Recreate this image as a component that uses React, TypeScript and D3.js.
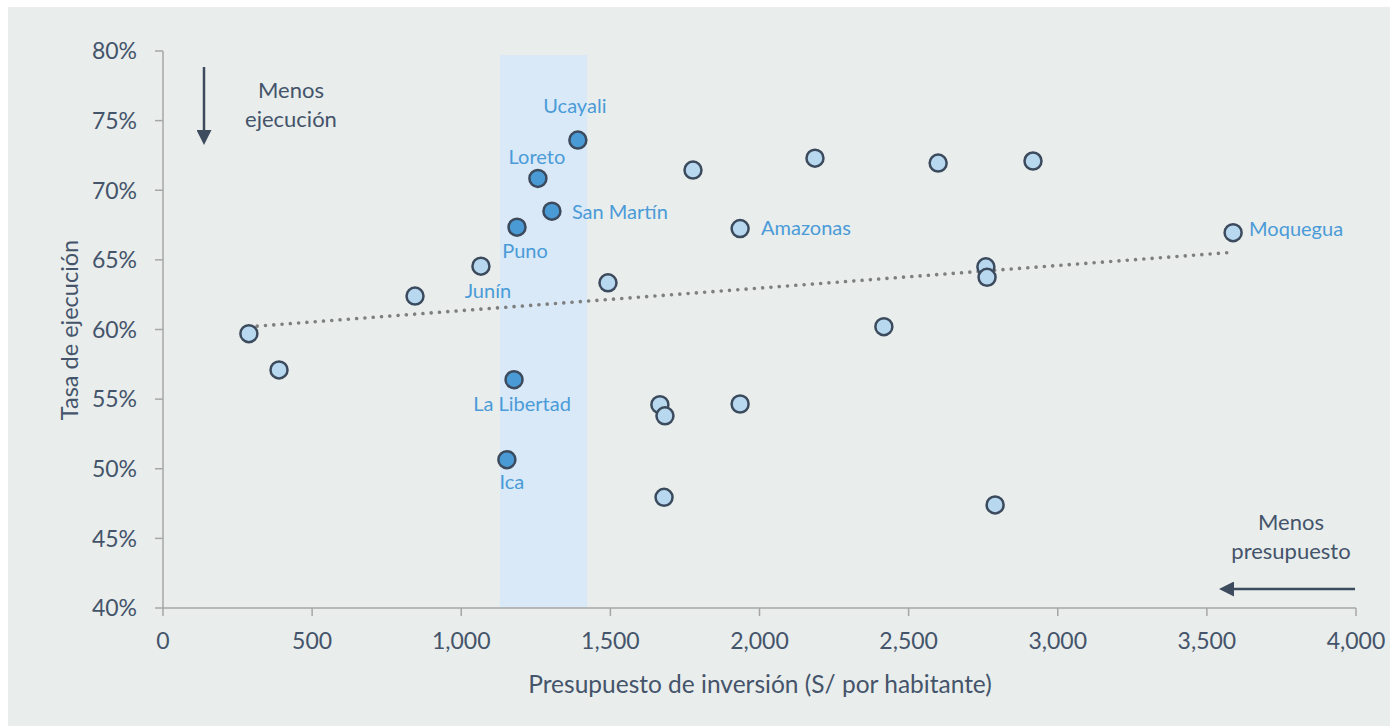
import React from "react";
import * as d3 from "d3";

const regions = ["", "", "", "Junín", "Puno", "Loreto", "San Martín", "Ucayali", "", "La Libertad", "Ica", "", "", "", "", "", "Amazonas", "", "", "", "", "", "", "", "Moquegua"];
const budget = [288, 389, 845, 1066, 1187, 1257, 1304, 1391, 1492, 1177, 1153, 1666, 1683, 1680, 1777, 1935, 1935, 2186, 2417, 2599, 2759, 2763, 2790, 2917, 3588];
const execution = [59.7, 57.1, 62.4, 64.55, 67.35, 70.85, 68.5, 73.6, 63.35, 56.4, 50.65, 54.6, 53.8, 47.95, 71.45, 54.65, 67.25, 72.3, 60.2, 71.95, 64.5, 63.75, 47.4, 72.1, 66.95];
const highlighted = [false, false, false, false, true, true, true, true, false, true, true, false, false, false, false, false, false, false, false, false, false, false, false, false, false];

const xTicks = [0, 500, 1000, 1500, 2000, 2500, 3000, 3500, 4000];
const yTicks = [40, 45, 50, 55, 60, 65, 70, 75, 80];
const bandRange = [1130, 1422];
const bandTop = 79.7;
const trendX = [288, 3588];
const trendY = [60.2, 65.55];

// label placement (offset in px from the point; anchor)
const labelDx: Record<string, number> = { "Junín": 7, Puno: 8, Loreto: -1, "San Martín": 20, Ucayali: -3, "La Libertad": 8, Ica: 5, Amazonas: 21, Moquegua: 16 };
const labelDy: Record<string, number> = { "Junín": 25, Puno: 24, Loreto: -22, "San Martín": 1, Ucayali: -34, "La Libertad": 24, Ica: 22, Amazonas: -1, Moquegua: -4 };
const labelStart: Record<string, boolean> = { "San Martín": true, Amazonas: true, Moquegua: true };

const W = 1382;
const H = 719;
const OX = 8;
const OY = 7;

const FONT = "Lato, 'Open Sans', sans-serif";
const TEXT = "#44546a";
const LABEL = "#4a9bd8";

export default function App() {
  const x = d3.scaleLinear().domain([0, 4000]).range([163 - OX, 1356 - OX]);
  const y = d3.scaleLinear().domain([40, 80]).range([608 - OY, 51 - OY]);
  const fmtX = d3.format(",");
  const line = d3.line<[number, number]>().x((d) => x(d[0])).y((d) => y(d[1]));
  const trend: [number, number][] = trendX.map((v, i) => [v, trendY[i]]);

  const x0 = x(0);
  const x1 = x(4000);
  const yb = y(40);
  const yt = y(80);

  return (
    <svg
      width={W}
      height={H}
      style={{ position: "absolute", left: OX, top: OY, display: "block" }}
      fontFamily={FONT}
    >
      <defs>
        <marker id="ah" viewBox="0 0 10 10" refX="2" refY="5" markerWidth="6" markerHeight="6" orient="auto-start-reverse" markerUnits="strokeWidth">
          <path d="M0,0 L10,5 L0,10 z" fill="#3d4b5e" />
        </marker>
      </defs>
      <rect x={0} y={0} width={W} height={H} fill="#e9edec" />
      <rect
        x={x(bandRange[0])}
        y={y(bandTop)}
        width={x(bandRange[1]) - x(bandRange[0])}
        height={yb - y(bandTop)}
        fill="#d9e9f7"
      />
      {/* axes */}
      <line x1={x0} x2={x0} y1={yt} y2={yb} stroke="#a6a6a6" strokeWidth={1.5} />
      <line x1={x0} x2={x1} y1={yb} y2={yb} stroke="#a6a6a6" strokeWidth={1.5} />
      {yTicks.map((t) => (
        <g key={"y" + t}>
          <line x1={x0 - 8} x2={x0} y1={y(t)} y2={y(t)} stroke="#a6a6a6" strokeWidth={1.5} />
          <text x={x0 - 26} y={y(t)} dy="0.36em" textAnchor="end" fontSize={23} fill={TEXT}>
            {t}%
          </text>
        </g>
      ))}
      {xTicks.map((t) => (
        <g key={"x" + t}>
          <line x1={x(t)} x2={x(t)} y1={yb} y2={yb + 8} stroke="#a6a6a6" strokeWidth={1.5} />
          <text x={x(t)} y={yb + 33} dy="0.36em" textAnchor="middle" fontSize={23} fill={TEXT}>
            {fmtX(t)}
          </text>
        </g>
      ))}
      <text
        transform={`translate(${70 - OX},${330 - OY}) rotate(-90)`}
        textAnchor="middle"
        dy="0.36em"
        fontSize={23.5}
        fill={TEXT}
      >
        Tasa de ejecución
      </text>
      <text x={760 - OX} y={684 - OY} dy="0.36em" textAnchor="middle" fontSize={24.5} fill={TEXT}>
        Presupuesto de inversión (S/ por habitante)
      </text>

      {/* trend */}
      <path
        d={line(trend) || ""}
        fill="none"
        stroke="#7f7f7f"
        strokeWidth={3.6}
        strokeDasharray="0.01 8.3"
        strokeLinecap="round"
      />

      {/* points */}
      {budget.map((b, i) => (
        <circle
          key={"p" + i}
          cx={x(b)}
          cy={y(execution[i])}
          r={8.5}
          fill={highlighted[i] ? "#4a9ad6" : "#b8d8ef"}
          stroke="#3b4a5d"
          strokeWidth={2.5}
        />
      ))}

      {/* labels */}
      {budget.map((b, i) => {
        const name = regions[i];
        if (!name) return null;
        return (
          <text
            key={"l" + i}
            x={x(b) + labelDx[name]}
            y={y(execution[i]) + labelDy[name]}
            dy="0.36em"
            textAnchor={labelStart[name] ? "start" : "middle"}
            fontSize={20}
            fill={LABEL}
          >
            {name}
          </text>
        );
      })}

      {/* annotations */}
      <line
        x1={204 - OX}
        x2={204 - OX}
        y1={67 - OY}
        y2={133 - OY}
        stroke="#3d4b5e"
        strokeWidth={2.5}
        markerEnd="url(#ah)"
      />
      <text x={291 - OX} y={90 - OY} dy="0.36em" textAnchor="middle" fontSize={22} fill={TEXT}>
        Menos
      </text>
      <text x={291 - OX} y={119 - OY} dy="0.36em" textAnchor="middle" fontSize={22} fill={TEXT}>
        ejecución
      </text>
      <line
        x1={1355 - OX}
        x2={1231 - OX}
        y1={589 - OY}
        y2={589 - OY}
        stroke="#3d4b5e"
        strokeWidth={2.5}
        markerEnd="url(#ah)"
      />
      <text x={1291 - OX} y={522 - OY} dy="0.36em" textAnchor="middle" fontSize={22} fill={TEXT}>
        Menos
      </text>
      <text x={1291 - OX} y={551 - OY} dy="0.36em" textAnchor="middle" fontSize={22} fill={TEXT}>
        presupuesto
      </text>
    </svg>
  );
}
